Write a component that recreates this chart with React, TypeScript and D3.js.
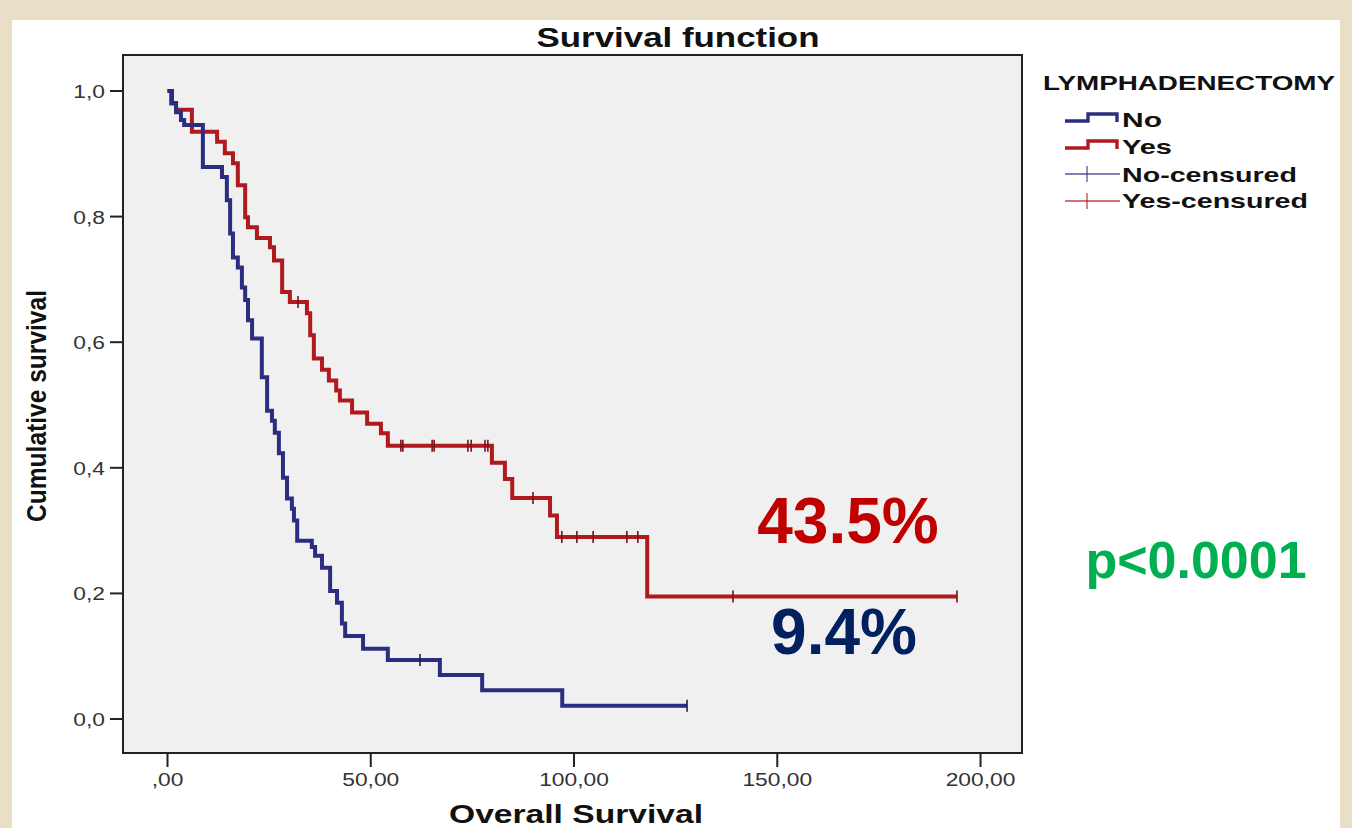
import * as d3 from "d3";

// Kaplan-Meier steps (time in months, cumulative survival)
const noTimes = [1.1, 2.1, 3.3, 4.1, 8.7, 13.4, 14.6, 15.4, 16.1, 17.3, 18.3, 19.1, 19.8, 20.8, 23.2, 24.5, 25.7, 26.4, 27.4, 28.4, 29.4, 30.6, 31.1, 31.9, 35.5, 36.3, 38.0, 40.0, 41.7, 42.9, 43.7, 48.1, 54.2, 67.0, 77.4, 97.1];
const noSurv = [0.981, 0.966, 0.954, 0.946, 0.879, 0.863, 0.826, 0.773, 0.735, 0.719, 0.687, 0.667, 0.635, 0.606, 0.544, 0.491, 0.475, 0.456, 0.423, 0.384, 0.351, 0.335, 0.316, 0.284, 0.274, 0.26, 0.241, 0.204, 0.185, 0.152, 0.132, 0.112, 0.094, 0.07, 0.046, 0.021];
const noCensored = [62.1, 127.8];

const yesTimes = [0.9, 2.1, 6.0, 12.2, 14.1, 16.1, 17.3, 19.1, 19.8, 22.0, 25.2, 26.2, 28.2, 30.1, 34.3, 35.1, 36.0, 38.0, 39.7, 41.5, 42.4, 45.4, 49.1, 52.5, 54.2, 79.8, 83.0, 84.8, 94.1, 95.8, 118.0];
const yesSurv = [0.98, 0.97, 0.935, 0.919, 0.901, 0.885, 0.85, 0.799, 0.783, 0.766, 0.751, 0.73, 0.68, 0.664, 0.646, 0.611, 0.574, 0.556, 0.539, 0.523, 0.507, 0.488, 0.47, 0.455, 0.435, 0.408, 0.382, 0.352, 0.324, 0.29, 0.195];
const yesCensored = [32.1, 57.4, 57.9, 65.1, 65.6, 73.9, 74.7, 78.1, 78.8, 89.9, 97.0, 100.7, 104.7, 113.0, 115.7, 139.1, 194.2];

const xTicks = [0, 50, 100, 150, 200];
const xTickLabels = [",00", "50,00", "100,00", "150,00", "200,00"];
const yTicks = [0, 0.2, 0.4, 0.6, 0.8, 1.0];
const yTickLabels = ["0,0", "0,2", "0,4", "0,6", "0,8", "1,0"];

const legendTitle = "LYMPHADENECTOMY";
const legendLabels = ["No", "Yes", "No-censured", "Yes-censured"];

const W = 1352;
const H = 828;
const FONT = "'Liberation Sans', Arial, sans-serif";
const BLUE = "#2b2e80";
const RED = "#b0191e";

const x = d3.scaleLinear().domain([-10.95, 210.2]).range([123, 1022]);
const y = d3.scaleLinear().domain([-0.0541, 1.0573]).range([753, 55]);

const line = d3.line<[number, number]>()
  .x(d => x(d[0]))
  .y(d => y(d[1]))
  .curve(d3.curveStepAfter);

function steps(times: number[], surv: number[], end: number): [number, number][] {
  const pts: [number, number][] = [[0, 1]];
  times.forEach((t, i) => pts.push([t, surv[i]]));
  pts.push([end, surv[surv.length - 1]]);
  return pts;
}

function survAt(times: number[], surv: number[], t: number) {
  let s = 1;
  times.forEach((tt, i) => { if (tt <= t) s = surv[i]; });
  return s;
}

export default function App() {
  const noPath = line(steps(noTimes, noSurv, d3.max(noCensored)!))!;
  const yesPath = line(steps(yesTimes, yesSurv, d3.max(yesCensored)!))!;

  const legendY = [120, 147, 174, 201];
  const legendBase = [127, 154, 182, 208];
  const legendLen = [40, 50, 175, 186];

  return (
    <svg width={W} height={H} style={{ position: "absolute", left: 0, top: 0, display: "block" }}
      xmlns="http://www.w3.org/2000/svg" fontFamily={FONT}>
      <rect x={0} y={0} width={W} height={H} fill="#e8dfc6" />
      <rect x={12} y={20} width={1328} height={H - 20} fill="#ffffff" />

      {/* title */}
      <text x={678} y={47} textAnchor="middle" fontSize={28} fontWeight="bold" fill="#111"
        textLength={283} lengthAdjust="spacingAndGlyphs">Survival function</text>

      {/* plot area */}
      <rect x={123} y={55} width={899} height={698} fill="#f0f0f0" stroke="#222" strokeWidth={2} />

      {/* y axis */}
      {yTicks.map((v, i) => (
        <g key={"y" + i}>
          <line x1={110} x2={123} y1={y(v)} y2={y(v)} stroke="#222" strokeWidth={2} />
          <text transform={`translate(105,${y(v) + 7}) scale(1.2,1)`} textAnchor="end"
            fontSize={19} fill="#333">{yTickLabels[i]}</text>
        </g>
      ))}
      <text transform="translate(46,406) scale(1.15,1) rotate(-90)" textAnchor="middle"
        fontSize={24} fontWeight="bold" fill="#111" textLength={232} lengthAdjust="spacingAndGlyphs">
        Cumulative survival</text>

      {/* x axis */}
      {xTicks.map((v, i) => (
        <g key={"x" + i}>
          <line x1={x(v)} x2={x(v)} y1={753} y2={767} stroke="#222" strokeWidth={2} />
          <text transform={`translate(${x(v)},786) scale(1.2,1)`} textAnchor="middle"
            fontSize={19} fill="#333">{xTickLabels[i]}</text>
        </g>
      ))}
      <text x={576} y={823} textAnchor="middle" fontSize={26} fontWeight="bold" fill="#111"
        textLength={254} lengthAdjust="spacingAndGlyphs">Overall Survival</text>

      {/* curves */}
      <path d={yesPath} fill="none" stroke={RED} strokeWidth={4} strokeLinejoin="miter" />
      <path d={noPath} fill="none" stroke={BLUE} strokeWidth={4} strokeLinejoin="miter" />

      {yesCensored.map((t, i) => {
        const cy = y(survAt(yesTimes, yesSurv, t));
        return <line key={"yc" + i} x1={x(t)} x2={x(t)} y1={cy - 6} y2={cy + 6} stroke="#7a1014" strokeWidth={1.6} />;
      })}
      {noCensored.map((t, i) => {
        const cy = y(survAt(noTimes, noSurv, t));
        return <line key={"nc" + i} x1={x(t)} x2={x(t)} y1={cy - 6} y2={cy + 6} stroke="#1c1f5c" strokeWidth={1.6} />;
      })}

      {/* legend */}
      <text x={1043} y={90} fontSize={21} fontWeight="bold" fill="#111"
        textLength={292} lengthAdjust="spacingAndGlyphs">{legendTitle}</text>
      {legendLabels.map((lab, i) => {
        const ly = legendY[i];
        const col = i % 2 === 0 ? BLUE : RED;
        return (
          <g key={"lg" + i}>
            {i < 2 ? (
              <path d={`M1065,${ly + 1} H1088 V${ly - 6} H1117 V${ly + 2}`} fill="none" stroke={col} strokeWidth={3.4} />
            ) : (
              <g>
                <line x1={1065} x2={1120} y1={ly} y2={ly} stroke={col} strokeWidth={1.3} opacity={0.8} />
                <line x1={1087} x2={1087} y1={ly - 8} y2={ly + 8} stroke={col} strokeWidth={1.3} opacity={0.8} />
              </g>
            )}
            <text x={1122} y={legendBase[i]} fontSize={21} fontWeight="bold" fill="#111"
              textLength={legendLen[i]} lengthAdjust="spacingAndGlyphs">{lab}</text>
          </g>
        );
      })}

      {/* annotations */}
      <text x={848} y={543} textAnchor="middle" fontSize={64} fontWeight="bold" fill="#c00000">43.5%</text>
      <text x={844} y={654} textAnchor="middle" fontSize={64} fontWeight="bold" fill="#002060">9.4%</text>
      <text x={1196} y={578} textAnchor="middle" fontSize={52} fontWeight="bold" fill="#00b050">p&lt;0.0001</text>
    </svg>
  );
}
